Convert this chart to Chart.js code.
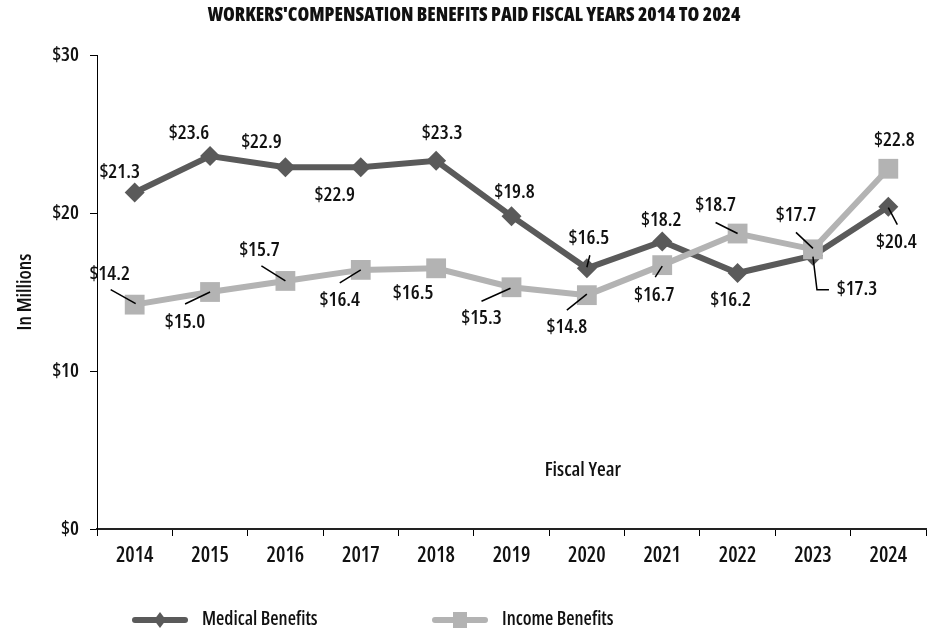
<!DOCTYPE html>
<html>
<head>
<meta charset="utf-8">
<script src="https://cdn.jsdelivr.net/npm/chart.js@4.4.1/dist/chart.umd.min.js"></script>
<style>
  html, body { margin: 0; padding: 0; background: #ffffff; overflow: hidden; }
  #wrap { position: relative; width: 940px; height: 633px; }
</style>
</head>
<body>
<div id="wrap"><canvas id="chart"></canvas></div>
<script>
// ---- data ----
const categories = ['2014', '2015', '2016', '2017', '2018', '2019', '2020', '2021', '2022', '2023', '2024'];
const medicalBenefits = [21.3, 23.6, 22.9, 22.9, 23.3, 19.8, 16.5, 18.2, 16.2, 17.3, 20.4];
const incomeBenefits = [14.2, 15.0, 15.7, 16.4, 16.5, 15.3, 14.8, 16.7, 18.7, 17.7, 22.8];
const yTickValues = [0, 10, 20, 30];
const seriesNames = ['Medical Benefits', 'Income Benefits'];

// ---- styling ----
const FONT = "'Open Sans', 'DejaVu Sans', sans-serif";
const W_REG = '600 condensed';   // weight + stretch for Chart.js font strings
const W_BOLD = '800 condensed';
const MED_COLOR = '#5a5a5a';
const INC_COLOR = '#b3b3b3';
const TEXT_COLOR = '#111111';

// label placement relative to each point: [dx, dy, leader polyline points relative to point]
const medicalLabelPlace = [
  [-15, -20, null], [-21, -23, null], [-24, -25, null], [-26, 28, null], [6, -28, null],
  [3, -24, null], [2, -30, [[3, -13], [0, -1]]], [-1, -21, null], [-7, 27, null],
  [44, 34, [[0, 1], [4, 34], [16, 34]]], [8, 36, [[0, 1], [9, 18]]]
];
const incomeLabelPlace = [
  [-25, -30, [[-24, -15], [1, -1]]], [-25, 30, [[-25, 12], [0, 0]]], [-26, -31, [[-24, -15], [0, 0]]],
  [-21, 30, [[-21, 13], [0, 0]]], [-23, 25, null], [-30, 31, [[-30, 14], [-1, 1]]],
  [-20, 32, [[-20, 15], [0, -1]]], [-8, 30, [[-7, 12], [0, 1]]], [-22, -28, [[-22, -11], [0, 0]]],
  [-17, -34, [[-17, -17], [0, -1]]], [6, -28, null]
];

const dataLabelPlugin = {
  id: 'dataLabels',
  afterDatasetsDraw(chart) {
    const ctx = chart.ctx;
    const places = [medicalLabelPlace, incomeLabelPlace];
    chart.data.datasets.forEach((ds, di) => {
      const meta = chart.getDatasetMeta(di);
      meta.data.forEach((pt, j) => {
        const p = places[di][j];
        const x = pt.x, y = pt.y;
        ctx.save();
        if (p[2]) {
          ctx.strokeStyle = '#000';
          ctx.lineWidth = 1.5;
          ctx.beginPath();
          p[2].forEach((q, k) => {
            if (k === 0) ctx.moveTo(x + q[0], y + q[1]); else ctx.lineTo(x + q[0], y + q[1]);
          });
          ctx.stroke();
        }
        ctx.fillStyle = TEXT_COLOR;
        ctx.font = W_REG + ' 20px ' + FONT;
        ctx.textAlign = 'center';
        ctx.textBaseline = 'middle';
        ctx.fillText('$' + ds.data[j].toFixed(1), x + p[0], y + p[1]);
        ctx.restore();
      });
    });
  }
};

const extrasPlugin = {
  id: 'extras',
  afterDraw(chart) {
    const ctx = chart.ctx;
    const area = chart.chartArea;
    ctx.save();
    // in-plot x-axis caption
    ctx.fillStyle = TEXT_COLOR;
    ctx.font = W_REG + ' 20px ' + FONT;
    ctx.textAlign = 'center';
    ctx.textBaseline = 'middle';
    ctx.fillText('Fiscal Year', area.left + (area.right - area.left) * 0.586, area.top + (area.bottom - area.top) * 0.877);

    // legend
    const items = [
      { x: 132, color: MED_COLOR, shape: 'diamond', text: seriesNames[0] },
      { x: 432, color: INC_COLOR, shape: 'square', text: seriesNames[1] }
    ];
    const ly = 620;
    items.forEach(it => {
      ctx.strokeStyle = it.color;
      ctx.lineWidth = 6;
      ctx.lineCap = 'round';
      ctx.beginPath();
      ctx.moveTo(it.x + 3, ly);
      ctx.lineTo(it.x + 53, ly);
      ctx.stroke();
      ctx.fillStyle = it.color;
      const cx = it.x + 28;
      if (it.shape === 'diamond') {
        ctx.beginPath();
        ctx.moveTo(cx, ly - 8);
        ctx.lineTo(cx + 6, ly);
        ctx.lineTo(cx, ly + 8);
        ctx.lineTo(cx - 6, ly);
        ctx.closePath();
        ctx.fill();
      } else {
        ctx.fillRect(cx - 7, ly - 8, 14, 16);
      }
      ctx.fillStyle = TEXT_COLOR;
      ctx.font = W_REG + ' 19px ' + FONT;
      ctx.textAlign = 'left';
      ctx.textBaseline = 'middle';
      ctx.fillText(it.text, it.x + 70, ly);
    });
    ctx.restore();
  }
};

new Chart(document.getElementById('chart'), {
  type: 'line',
  data: {
    labels: categories,
    datasets: [
      {
        label: seriesNames[0],
        data: medicalBenefits,
        borderColor: MED_COLOR,
        backgroundColor: MED_COLOR,
        borderWidth: 6,
        pointStyle: 'rectRot',
        pointRadius: 10,
        pointHoverRadius: 10,
        pointBorderWidth: 0,
        tension: 0,
        order: 1
      },
      {
        label: seriesNames[1],
        data: incomeBenefits,
        borderColor: INC_COLOR,
        backgroundColor: INC_COLOR,
        borderWidth: 6,
        pointStyle: 'rect',
        pointRadius: 14,
        pointHoverRadius: 14,
        pointBorderWidth: 0,
        tension: 0,
        order: 0
      }
    ]
  },
  options: {
    responsive: true,
    maintainAspectRatio: false,
    animation: false,
    layout: { padding: { left: 10, right: 2, top: 0, bottom: 0 } },
    plugins: {
      legend: { display: false },
      tooltip: { enabled: false },
      title: {
        display: true,
        text: "WORKERS'COMPENSATION BENEFITS PAID FISCAL YEARS 2014 TO 2024",
        color: TEXT_COLOR,
        font: { family: FONT, size: 19, weight: W_BOLD, lineHeight: 1.2 },
        padding: { top: 4.6, bottom: 27.6 }
      }
    },
    scales: {
      x: {
        type: 'category',
        offset: true,
        grid: { display: true, offset: true, drawOnChartArea: false, drawTicks: true, tickLength: 7, color: '#000', lineWidth: 1 },
        border: { display: true, color: '#222', width: 2 },
        ticks: { color: TEXT_COLOR, font: { family: FONT, size: 21, weight: W_REG }, padding: 7.4, maxRotation: 0, autoSkip: false },
        afterFit(scale) { scale.height = 104; }
      },
      y: {
        min: 0,
        max: 30,
        afterBuildTicks(scale) { scale.ticks = yTickValues.map(v => ({ value: v })); },
        grid: { display: true, drawOnChartArea: false, drawTicks: true, tickLength: 7, color: '#000', lineWidth: 1 },
        border: { display: true, color: '#000', width: 1 },
        ticks: { color: TEXT_COLOR, font: { family: FONT, size: 20, weight: W_REG }, padding: 11, callback: v => '$' + v },
        title: { display: true, text: 'In Millions', color: TEXT_COLOR, font: { family: FONT, size: 20, weight: W_REG, lineHeight: 1.2 }, padding: { top: 3, bottom: 0 } },
        afterFit(scale) { scale.width = 87; }
      }
    }
  },
  plugins: [dataLabelPlugin, extrasPlugin]
});
</script>
</body>
</html>
